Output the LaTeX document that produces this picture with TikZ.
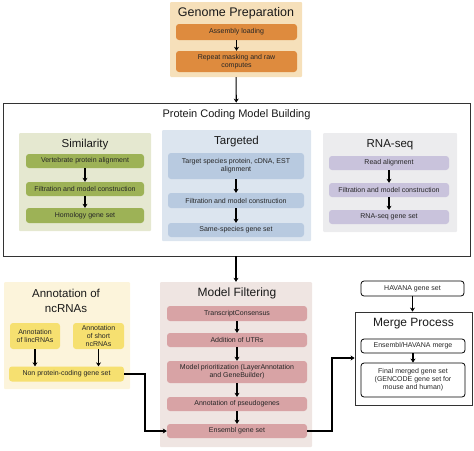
\documentclass[tikz,border=0pt]{standalone}
\usepackage{fontspec}
\setmainfont{Liberation Sans}
\usetikzlibrary{arrows.meta}

\definecolor{gpback}{HTML}{F6E0BA}
\definecolor{gpfill}{HTML}{DE8B3E}
\definecolor{simback}{HTML}{E5E8D0}
\definecolor{simfill}{HTML}{9DB256}
\definecolor{tarback}{HTML}{DCE5EF}
\definecolor{tarfill}{HTML}{B8CAE0}
\definecolor{rnaback}{HTML}{ECECEE}
\definecolor{rnafill}{HTML}{C9C3DC}
\definecolor{ncback}{HTML}{FCF4DB}
\definecolor{ncfill}{HTML}{F6E070}
\definecolor{mfback}{HTML}{EFE5E2}
\definecolor{mffill}{HTML}{D8A3A5}

\tikzset{
  panel/.style={rectangle, rounded corners=1pt, inner sep=0pt},
  stepbox/.style={rectangle, rounded corners=3pt, align=center, inner sep=1pt,
    text=black!85, font=\fontsize{7}{8}\selectfont},
  heading/.style={align=center, inner sep=0pt, text=black!90, font=\fontsize{11.5}{13.5}\selectfont},
  flow/.style={->, line width=1.1pt},
}

\begin{document}
\begin{tikzpicture}[x=1pt, y=-1pt, >={Stealth[length=4pt,width=5pt]}]
  \useasboundingbox (0,0) rectangle (474,450);

  % genome preparation
  \node[panel, fill=gpback, minimum width=132, minimum height=75] (gp) at (236,39.5) {};
  \node[heading, font=\fontsize{12.5}{14}\selectfont] (gptitle) at (236,13) {Genome Preparation};
  \node[stepbox, fill=gpfill, minimum width=121, minimum height=16] (assembly) at (236.5,32) {Assembly loading};
  \node[stepbox, fill=gpfill, minimum width=121, minimum height=21] (repeat) at (236.5,61.5) {Repeat masking and raw\\computes};
  \draw[flow] (assembly) -- (repeat);

  % protein coding model building
  \node[panel, rounded corners=0pt, draw=black!80, line width=0.8pt, minimum width=467, minimum height=153] (pcmb) at (236.5,179.5) {};
  \node[heading, font=\fontsize{11}{13}\selectfont] (pcmbtitle) at (236.5,115) {Protein Coding Model Building};
  \draw[flow] (gp) -- (pcmb);

  % similarity
  \node[panel, fill=simback, minimum width=132, minimum height=98] (sim) at (85,182) {};
  \node[heading] (simtitle) at (85,145) {Similarity};
  \node[stepbox, fill=simfill, minimum width=118, minimum height=14] (vert) at (85,161) {Vertebrate protein alignment};
  \node[stepbox, fill=simfill, minimum width=118, minimum height=14] (simfilt) at (85,189) {Filtration and model construction};
  \node[stepbox, fill=simfill, minimum width=118, minimum height=15] (homology) at (85,215.5) {Homology gene set};
  \draw[flow] (vert) -- (simfilt);
  \draw[flow] (simfilt) -- (homology);

  % targeted
  \node[panel, fill=tarback, minimum width=149, minimum height=111] (tar) at (236.5,185.5) {};
  \node[heading] (tartitle) at (236.5,142) {Targeted};
  \node[stepbox, fill=tarfill, minimum width=136, minimum height=26] (target) at (236,166) {Target species protein, cDNA, EST\\alignment};
  \node[stepbox, fill=tarfill, minimum width=136, minimum height=15] (tarfilt) at (236,200.5) {Filtration and model construction};
  \node[stepbox, fill=tarfill, minimum width=136, minimum height=14] (same) at (236,230) {Same-species gene set};
  \draw[flow] (target) -- (tarfilt);
  \draw[flow] (tarfilt) -- (same);

  % rna-seq
  \node[panel, fill=rnaback, minimum width=134, minimum height=99] (rna) at (390,182.5) {};
  \node[heading] (rnatitle) at (390,145) {RNA-seq};
  \node[stepbox, fill=rnafill, minimum width=120, minimum height=14] (read) at (389,163) {Read alignment};
  \node[stepbox, fill=rnafill, minimum width=120, minimum height=14] (rnafilt) at (389,190) {Filtration and model construction};
  \node[stepbox, fill=rnafill, minimum width=120, minimum height=14] (rnaset) at (389,217) {RNA-seq gene set};
  \draw[flow] (read) -- (rnafilt);
  \draw[flow] (rnafilt) -- (rnaset);

  % annotation of ncrnas
  \node[panel, fill=ncback, minimum width=126, minimum height=107] (nc) at (67,335.5) {};
  \node[heading, font=\fontsize{11.5}{15}\selectfont] (nctitle) at (66,300.5) {Annotation of\\ncRNAs};
  \node[stepbox, fill=ncfill, minimum width=50, minimum height=26] (linc) at (35,336) {Annotation\\of lincRNAs};
  \node[stepbox, fill=ncfill, minimum width=51, minimum height=26] (short) at (98.5,336) {Annotation\\of short\\ncRNAs};
  \node[stepbox, fill=ncfill, minimum width=115, minimum height=15] (noncoding) at (66.5,374) {Non protein-coding gene set};
  \draw[flow] (linc) -- (linc |- noncoding.north);
  \draw[flow] (short) -- (short |- noncoding.north);

  % model filtering
  \node[panel, fill=mfback, minimum width=152, minimum height=165] (mf) at (236,364.5) {};
  \node[heading, font=\fontsize{12}{14}\selectfont] (mftitle) at (237,293) {Model Filtering};
  \node[stepbox, fill=mffill, minimum width=140, minimum height=15] (consensus) at (237,313.5) {TranscriptConsensus};
  \node[stepbox, fill=mffill, minimum width=140, minimum height=14] (utr) at (237,340) {Addition of UTRs};
  \node[stepbox, fill=mffill, minimum width=140, minimum height=22] (prio) at (237,372) {Model prioritization (LayerAnnotation\\and GeneBuilder)};
  \node[stepbox, fill=mffill, minimum width=140, minimum height=14] (pseudo) at (237,404) {Annotation of pseudogenes};
  \node[stepbox, fill=mffill, minimum width=140, minimum height=14] (ensembl) at (237,431) {Ensembl gene set};
  \draw[flow] (consensus) -- (utr);
  \draw[flow] (utr) -- (prio);
  \draw[flow] (prio) -- (pseudo);
  \draw[flow] (pseudo) -- (ensembl);
  \draw[flow] (pcmb.south -| mf.north) -- (mf);

  % merge process
  \node[stepbox, draw=black, line width=0.8pt, minimum width=103, minimum height=15] (havana) at (412.5,288.5) {HAVANA gene set};
  \node[panel, rounded corners=0pt, draw=black!80, line width=0.8pt, minimum width=117, minimum height=93] (merge) at (413.5,358.5) {};
  \node[heading, font=\fontsize{12}{14}\selectfont] (mergetitle) at (413.5,324) {Merge Process};
  \node[stepbox, draw=black, line width=0.8pt, minimum width=104, minimum height=14] (ehmerge) at (413,346) {Ensembl/HAVANA merge};
  \node[stepbox, draw=black, line width=0.8pt, minimum width=104, minimum height=34] (final) at (413,380) {Final merged gene set\\(GENCODE gene set for\\mouse and human)};
  \draw[flow] (havana) -- (havana |- merge.north);
  \draw[flow] (ehmerge) -- (final);

  % links between stages
  \coordinate (ncbend) at (145,374);
  \coordinate (mergebend) at (332,358);
  \draw[flow] (noncoding.east) -- (ncbend) |- (ensembl.west);
  \draw[flow] (ensembl.east) -| (mergebend) -- (merge.west |- mergebend);
\end{tikzpicture}
\end{document}
